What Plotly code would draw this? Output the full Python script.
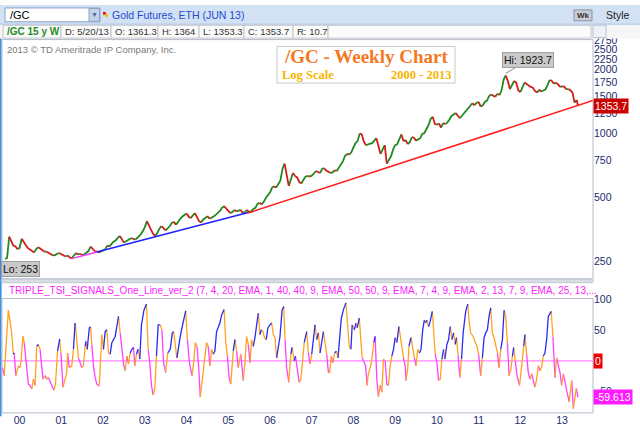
import math

import plotly.graph_objects as go

W, H = 640, 428
SANS = "Liberation Sans, Arial, sans-serif"
SERIF = "Liberation Serif, Georgia, serif"
NAVY = "#1c2b6e"

# weekly gold futures closes (decimal years)
price_dates = [
    1999.65, 1999.70, 1999.75, 1999.80, 1999.85, 1999.90, 1999.95,
    2000.00, 2000.05, 2000.10, 2000.15, 2000.20, 2000.25, 2000.30, 2000.35, 2000.40, 2000.45,
    2000.50, 2000.55, 2000.60, 2000.65, 2000.70, 2000.75, 2000.80, 2000.85, 2000.90, 2000.95,
    2001.00, 2001.05, 2001.10, 2001.15, 2001.20, 2001.25, 2001.30, 2001.35, 2001.40, 2001.45,
    2001.50, 2001.55, 2001.60, 2001.65, 2001.70, 2001.75, 2001.80, 2001.85, 2001.90, 2001.95,
    2002.00, 2002.05, 2002.10, 2002.15, 2002.20, 2002.25, 2002.30, 2002.35, 2002.40, 2002.45,
    2002.50, 2002.55, 2002.60, 2002.65, 2002.70, 2002.75, 2002.80, 2002.85, 2002.90, 2002.95,
    2003.00, 2003.05, 2003.10, 2003.15, 2003.20, 2003.25, 2003.30, 2003.35, 2003.40, 2003.45,
    2003.50, 2003.55, 2003.60, 2003.65, 2003.70, 2003.75, 2003.80, 2003.85, 2003.90, 2003.95,
    2004.00, 2004.05, 2004.10, 2004.15, 2004.20, 2004.25, 2004.30, 2004.35, 2004.40, 2004.45,
    2004.50, 2004.55, 2004.60, 2004.65, 2004.70, 2004.75, 2004.80, 2004.85, 2004.90, 2004.95,
    2005.00, 2005.05, 2005.10, 2005.15, 2005.20, 2005.25, 2005.30, 2005.35, 2005.40, 2005.45,
    2005.50, 2005.55, 2005.60, 2005.65, 2005.70, 2005.75, 2005.80, 2005.85, 2005.90, 2005.95,
    2006.00, 2006.05, 2006.10, 2006.15, 2006.20, 2006.25, 2006.30, 2006.35, 2006.40, 2006.45,
    2006.50, 2006.55, 2006.60, 2006.65, 2006.70, 2006.75, 2006.80, 2006.85, 2006.90, 2006.95,
    2007.00, 2007.05, 2007.10, 2007.15, 2007.20, 2007.25, 2007.30, 2007.35, 2007.40, 2007.45,
    2007.50, 2007.55, 2007.60, 2007.65, 2007.70, 2007.75, 2007.80, 2007.85, 2007.90, 2007.95,
    2008.00, 2008.05, 2008.10, 2008.15, 2008.20, 2008.25, 2008.30, 2008.35, 2008.40, 2008.45,
    2008.50, 2008.55, 2008.60, 2008.65, 2008.70, 2008.75, 2008.80, 2008.85, 2008.90, 2008.95,
    2009.00, 2009.05, 2009.10, 2009.15, 2009.20, 2009.25, 2009.30, 2009.35, 2009.40, 2009.45,
    2009.50, 2009.55, 2009.60, 2009.65, 2009.70, 2009.75, 2009.80, 2009.85, 2009.90, 2009.95,
    2010.00, 2010.05, 2010.10, 2010.15, 2010.20, 2010.25, 2010.30, 2010.35, 2010.40, 2010.45,
    2010.50, 2010.55, 2010.60, 2010.65, 2010.70, 2010.75, 2010.80, 2010.85, 2010.90, 2010.95,
    2011.00, 2011.05, 2011.10, 2011.15, 2011.20, 2011.25, 2011.30, 2011.35, 2011.40, 2011.45,
    2011.50, 2011.55, 2011.60, 2011.65, 2011.70, 2011.75, 2011.80, 2011.85, 2011.90, 2011.95,
    2012.00, 2012.05, 2012.10, 2012.15, 2012.20, 2012.25, 2012.30, 2012.35, 2012.40, 2012.45,
    2012.50, 2012.55, 2012.60, 2012.65, 2012.70, 2012.75, 2012.80, 2012.85, 2012.90, 2012.95,
    2013.00, 2013.05, 2013.10, 2013.15, 2013.20, 2013.25, 2013.30, 2013.35, 2013.38,
]
price_close = [
    255, 258, 325, 308, 295, 292, 284,
    288, 318, 305, 296, 287, 281, 278, 274, 285, 290,
    286, 280, 276, 276, 272, 270, 265, 266, 270, 272,
    268, 265, 262, 265, 259, 257, 263, 272, 268, 270,
    266, 268, 273, 278, 292, 283, 278, 276, 274, 278,
    280, 283, 295, 292, 300, 308, 312, 322, 328, 318,
    305, 310, 315, 318, 320, 315, 318, 325, 332, 345,
    360, 385, 370, 350, 335, 328, 338, 355, 365, 355,
    348, 356, 365, 378, 382, 370, 385, 395, 405, 413,
    418, 405, 398, 408, 420, 400, 385, 380, 392, 398,
    407, 395, 402, 405, 412, 420, 430, 445, 453, 440,
    428, 420, 425, 435, 428, 430, 435, 420, 425, 435,
    425, 428, 440, 445, 465, 470, 462, 475, 495, 510,
    525, 555, 562, 555, 580, 600, 680, 720, 640, 565,
    615, 650, 630, 620, 590, 580, 600, 625, 630, 625,
    632, 645, 665, 660, 650, 680, 685, 668, 660, 650,
    655, 670, 665, 690, 715, 740, 785, 800, 795, 815,
    860, 900, 920, 1000, 990, 915, 880, 890, 895, 900,
    930, 950, 880, 800, 840, 880, 720, 750, 780, 840,
    880, 890, 950, 990, 920, 930, 890, 910, 960, 955,
    925, 940, 950, 995, 1005, 1050, 1095, 1170, 1200, 1110,
    1100, 1115, 1065, 1120, 1108, 1125, 1165, 1210, 1230, 1250,
    1210, 1180, 1215, 1240, 1280, 1320, 1350, 1390, 1360, 1395,
    1410, 1340, 1360, 1410, 1430, 1500, 1530, 1510, 1490, 1540,
    1520, 1600, 1800, 1880, 1770, 1620, 1700, 1770, 1740, 1600,
    1570, 1660, 1740, 1710, 1690, 1660, 1645, 1590, 1560, 1610,
    1580, 1600, 1615, 1690, 1790, 1775, 1720, 1740, 1710, 1660,
    1670, 1665, 1620, 1620, 1600, 1560, 1400, 1440, 1353.7,
]

hi_date, hi_price = 2011.65, 1923.7
lo_price = 253
last_close = 1353.7

# hand-drawn support lines
pink_dates, pink_prices = [2001.25, 2001.85], [256, 275]
blue_dates, blue_prices = [2001.85, 2005.48], [275, 423]
red_dates, red_prices = [2005.48, 2013.74], [421, 1431]

price_ticks = [250, 500, 750, 1000, 1250, 1500, 1750, 2000, 2250, 2500, 2750]
tsi_ticks = [100, 50, -50]
year_ticks = list(range(2000, 2014))
year_labels = ["00", "01", "02", "03", "04", "05", "06", "07", "08", "09", "10", "11", "12", "13"]

# TRIPLE_TSI_SIGNALS oscillator
tsi_dates = [
    1999.59, 1999.63, 1999.73, 1999.81, 1999.85, 1999.87, 1999.91, 1999.97, 2000.01, 2000.03,
    2000.08, 2000.11, 2000.16, 2000.21, 2000.25, 2000.29, 2000.33, 2000.37, 2000.41, 2000.45,
    2000.49, 2000.56, 2000.61, 2000.65, 2000.69, 2000.77, 2000.82, 2000.86, 2000.91, 2000.96,
    2000.99, 2001.04, 2001.08, 2001.13, 2001.15, 2001.19, 2001.25, 2001.29, 2001.33, 2001.37,
    2001.41, 2001.49, 2001.53, 2001.57, 2001.59, 2001.62, 2001.67, 2001.70, 2001.73, 2001.77,
    2001.81, 2001.85, 2001.91, 2001.93, 2001.97, 2002.01, 2002.05, 2002.09, 2002.13, 2002.17,
    2002.21, 2002.29, 2002.33, 2002.37, 2002.41, 2002.49, 2002.53, 2002.57, 2002.61, 2002.65,
    2002.69, 2002.73, 2002.76, 2002.80, 2002.84, 2002.88, 2002.92, 2002.98, 2003.04, 2003.08,
    2003.12, 2003.16, 2003.20, 2003.24, 2003.28, 2003.32, 2003.37, 2003.41, 2003.45, 2003.50,
    2003.55, 2003.61, 2003.66, 2003.69, 2003.73, 2003.77, 2003.81, 2003.85, 2003.89, 2003.93,
    2003.98, 2004.02, 2004.07, 2004.13, 2004.17, 2004.21, 2004.25, 2004.29, 2004.33, 2004.40,
    2004.48, 2004.52, 2004.56, 2004.60, 2004.64, 2004.68, 2004.72, 2004.76, 2004.80, 2004.84,
    2004.90, 2004.94, 2004.98, 2005.02, 2005.06, 2005.12, 2005.16, 2005.20, 2005.24, 2005.30,
    2005.36, 2005.40, 2005.44, 2005.48, 2005.52, 2005.56, 2005.60, 2005.64, 2005.68, 2005.72,
    2005.76, 2005.79, 2005.83, 2005.87, 2005.91, 2005.95, 2006.00, 2006.04, 2006.08, 2006.12,
    2006.16, 2006.20, 2006.24, 2006.29, 2006.33, 2006.36, 2006.40, 2006.45, 2006.50, 2006.53,
    2006.58, 2006.61, 2006.65, 2006.70, 2006.74, 2006.77, 2006.82, 2006.88, 2006.92, 2006.96,
    2007.00, 2007.04, 2007.08, 2007.12, 2007.16, 2007.20, 2007.24, 2007.28, 2007.32, 2007.36,
    2007.40, 2007.43, 2007.47, 2007.51, 2007.55, 2007.59, 2007.63, 2007.67, 2007.71, 2007.77,
    2007.82, 2007.86, 2007.90, 2007.94, 2007.97, 2008.02, 2008.06, 2008.09, 2008.14, 2008.17,
    2008.21, 2008.25, 2008.29, 2008.33, 2008.35, 2008.43, 2008.49, 2008.52, 2008.56, 2008.60,
    2008.64, 2008.68, 2008.72, 2008.76, 2008.80, 2008.84, 2008.88, 2008.92, 2008.96, 2009.00,
    2009.04, 2009.09, 2009.16, 2009.20, 2009.24, 2009.26, 2009.30, 2009.33, 2009.38, 2009.42,
    2009.46, 2009.50, 2009.54, 2009.58, 2009.62, 2009.66, 2009.70, 2009.73, 2009.76, 2009.80,
    2009.84, 2009.89, 2009.92, 2009.96, 2010.00, 2010.04, 2010.08, 2010.12, 2010.16, 2010.19,
    2010.22, 2010.24, 2010.28, 2010.32, 2010.36, 2010.40, 2010.44, 2010.47, 2010.51, 2010.55,
    2010.59, 2010.63, 2010.69, 2010.74, 2010.77, 2010.81, 2010.87, 2010.92, 2010.96, 2011.00,
    2011.05, 2011.09, 2011.13, 2011.17, 2011.21, 2011.25, 2011.29, 2011.33, 2011.38, 2011.42,
    2011.45, 2011.49, 2011.53, 2011.57, 2011.61, 2011.65, 2011.69, 2011.73, 2011.77, 2011.81,
    2011.84, 2011.88, 2011.92, 2011.98, 2012.00, 2012.04, 2012.08, 2012.11, 2012.15, 2012.19,
    2012.23, 2012.27, 2012.31, 2012.35, 2012.39, 2012.43, 2012.47, 2012.51, 2012.55, 2012.59,
    2012.63, 2012.67, 2012.74, 2012.78, 2012.81, 2012.83, 2012.87, 2012.91, 2012.95, 2012.99,
    2013.03, 2013.07, 2013.11, 2013.17, 2013.21, 2013.23, 2013.27, 2013.31, 2013.34, 2013.38,
]
tsi_values = [
    -11, -24, 83, 46, 11, 13, -24, -8, -11, -3,
    41, 30, -8, -38, -40, -46, -30, -40, 24, 27,
    19, -30, -24, -30, -27, -40, -48, -38, 16, 36,
    13, -43, -32, -19, 13, -11, -8, 19, 62, 30,
    5, -11, -8, 24, 32, 19, 54, 56, 27, -8,
    -27, -38, -41, -3, 43, 19, 48, 51, 13, 11,
    30, 40, 56, 73, 46, -5, -16, 8, -5, 13,
    19, 22, -8, 11, 19, 3, 59, 83, 93, 19,
    -3, -40, -56, -46, 8, 59, 59, 51, -3, -19,
    13, 19, 46, 48, 30, 5, 27, 40, 54, 67,
    82, 35, -3, -24, -3, 30, 24, -8, -59, -16,
    30, 24, -8, 19, 11, 16, 48, 54, 62, 75,
    84, 30, 8, -27, -38, 16, 35, 16, -11, 11,
    -32, -3, 40, 27, -3, 35, 24, 38, 59, 78,
    43, 51, 48, 38, 35, 54, 59, 62, 43, 38,
    5, 24, 40, 83, 89, 35, -11, -35, 11, 22,
    0, 8, -11, -35, -30, -8, 30, 48, 13, -5,
    11, 40, 59, 35, 46, 13, 35, 48, 30, 11,
    -19, -19, 8, -3, 13, 16, 5, 35, 70, 86,
    95, 65, 24, 19, 59, 51, 62, 54, 70, 46,
    5, -3, -8, -40, -24, -3, 30, 40, -30, -59,
    -40, -51, 3, 0, -38, -40, -8, 8, 19, 38,
    30, 56, 19, 5, -8, -32, -13, 24, 38, 19,
    5, -8, 19, 13, 19, 51, 67, 62, 67, 56,
    65, 81, 46, 11, -3, -32, -30, 3, 19, 3,
    24, 27, 35, 56, 35, 46, 27, 38, 8, -27,
    3, 46, 81, 93, 65, 46, 40, 30, 24, 11,
    -24, 5, 38, 46, 51, 73, 87, 46, 35, 24,
    13, -11, 19, 35, 83, 73, 30, -24, -16, 8,
    22, 0, -24, -40, -24, -3, 24, 43, 11, -19,
    -30, -21, -35, -43, -30, -8, -16, -11, 8, 13,
    35, 73, 81, 40, -3, -27, 5, -5, -19, -40,
    -21, -32, -48, -67, -40, -32, -78, -54, -45, -59.613,
]
tsi_last = -59.613

BLUE, ORANGE, PINK = "#2a2af5", "#ffa31a", "#ff40ff"
UP, DOWN = "#1f8a1f", "#d41c1c"


def px(x):
    return x / W


def py(y):
    return 1 - y / H


def tsi_color(a, b):
    if b >= a:
        return BLUE if a >= 0 else ORANGE
    return ORANGE if b >= 0 else PINK


def colored_runs(xs, ys, pick):
    # group consecutive segments of the same colour into one polyline
    runs = []
    for i in range(len(ys) - 1):
        col = pick(ys[i], ys[i + 1])
        if runs and runs[-1][0] == col:
            runs[-1][1].append(i + 1)
        else:
            runs.append((col, [i, i + 1]))
    out = {}
    for col, idx in runs:
        xx, yy = out.setdefault(col, ([], []))
        xx += [xs[k] for k in idx] + [None]
        yy += [ys[k] for k in idx] + [None]
    return out


fig = go.Figure()

# price, green while rising, red while falling
for col, (xx, yy) in colored_runs(
    price_dates, price_close, lambda a, b: UP if b >= a else DOWN
).items():
    fig.add_trace(
        go.Scatter(x=xx, y=yy, mode="lines", line={"color": col, "width": 1.8},
                   xaxis="x", yaxis="y", hoverinfo="skip")
    )

for d, p, c in [
    (pink_dates, pink_prices, "#ff33ff"),
    (blue_dates, blue_prices, "#2020ff"),
    (red_dates, red_prices, "#ff1a1a"),
]:
    fig.add_trace(
        go.Scatter(x=d, y=p, mode="lines", line={"color": c, "width": 1.5},
                   xaxis="x", yaxis="y", hoverinfo="skip")
    )

tsi_runs = colored_runs(tsi_dates, tsi_values, tsi_color)
for col in (PINK, ORANGE, BLUE):
    xx, yy = tsi_runs[col]
    fig.add_trace(
        go.Scatter(x=xx, y=yy, mode="lines", line={"color": col, "width": 1.3},
                   xaxis="x2", yaxis="y2", hoverinfo="skip")
    )

x_range = [1999.578, 2013.741]
x_dom = [px(2), px(593)]

shapes = []


def rect(x0, y0, x1, y1, fill, line=None, width=1):
    shapes.append(dict(
        type="rect", xref="paper", yref="paper", layer="above",
        x0=px(x0), x1=px(x1), y0=py(y1), y1=py(y0), fillcolor=fill,
        line={"color": line or fill, "width": width if line else 0},
    ))


def hline(x0, x1, y, color, width=1):
    shapes.append(dict(type="line", xref="paper", yref="paper", layer="above",
                       x0=px(x0), x1=px(x1), y0=py(y), y1=py(y),
                       line={"color": color, "width": width}))


def vline(x, y0, y1, color, width=1):
    shapes.append(dict(type="line", xref="paper", yref="paper", layer="above",
                       x0=px(x), x1=px(x), y0=py(y0), y1=py(y1),
                       line={"color": color, "width": width}))


# toolbar rows
rect(0, 0, 640, 19.5, "#d3e1f5")
hline(0, 640, 19.5, "#9db9e2")
rect(5, 3, 100, 17, "#ffffff", "#8ea3c4")
rect(89, 3.5, 99.5, 16.5, "#c3d3ea", "#8ea3c4")
rect(103, 7, 106, 10, "#e02020")
rect(105, 9, 108, 12, "#f0c000")
rect(574, 5, 592, 16, "#c9ccd4", "#8d93a0")
rect(0, 20, 640, 34, "#f6f6f6")
for x0, x1 in [(3, 61), (61, 111), (111, 158), (158, 199), (199, 244), (244, 293),
               (293, 328), (328, 591)]:
    rect(x0, 20.5, x1, 33.5, "#fbfbfb", "#c4c4c4")
rect(593, 20.5, 606, 33, "#eef2f8", "#b8c2d2")
vline(0.8, 34, 416, "#3b8fe8", 1.6)

# chart frames
rect(2, 35, 593, 277, "rgba(0,0,0,0)", "#b3bccb")
rect(2, 277.5, 593, 281, "#d9dde4", "#c4c9d2")
rect(2, 297, 593, 412.7, "rgba(0,0,0,0)", "#b3bccb")
shapes.append(dict(type="line", xref="paper", yref="y2", layer="below",
                   x0=px(2), x1=px(593), y0=0, y1=0,
                   line={"color": "#ff66ff", "width": 1}))

# title box
rect(277, 42, 455, 79, "#ffffff", "#c8c8c8")

annotations = []


def text(x, y, s, size=10, color="#333333", anchor="left", family=SANS, **kw):
    annotations.append(dict(x=px(x), y=py(y), xref="paper", yref="paper", text=s,
                            showarrow=False, xanchor=anchor, yanchor="middle",
                            font={"size": size, "color": color, "family": family}, **kw))


text(8, 10.5, "/GC", 11, "#000000")
text(94.5, 10, "▼", 7, "#4d6b99", anchor="center")
text(110, 10.5, "Gold Futures, ETH (JUN 13)", 10.5, "#1d4ccc")
text(583, 10.5, "<b>Wk</b>", 8, "#333333", anchor="center")
text(604, 10.5, "Style", 10.5, "#222222")
text(5, 27, "<b>/GC 15 y W</b>", 10, "#1f8c1f")
text(63, 27, "D: 5/20/13", 9.5)
text(113, 27, "O: 1361.3", 9.5)
text(160, 27, "H: 1364", 9.5)
text(201, 27, "L: 1353.3", 9.5)
text(246, 27, "C: 1353.7", 9.5)
text(295, 27, "R: 10.7", 9.5)
text(5, 45, "2013 © TD Ameritrade IP Company, Inc.", 9.5, "#7a7a7a")
text(366, 52.5, "<b>/GC - Weekly Chart</b>", 19, "#f5781e", anchor="center", family=SERIF)
text(280, 71, "<b>Log Scale</b>", 12.5, "#f7b500", family=SERIF)
text(453, 71, "<b>2000 - 2013</b>", 12.5, "#f7b500", anchor="right", family=SERIF)
text(7, 289, "TRIPLE_TSI_SIGNALS_One_Line_ver_2 (7, 4, 20, EMA, 1, 40, 40, 9, EMA, 50, 50, 9, "
     "EMA, 7, 4, 9, EMA, 2, 13, 7, 9, EMA, 25, 13,...", 10, "#ff1aff")
text(1, 267.5, "Lo: " + str(lo_price), 10.5, "#111111",
     bgcolor="#c9c9c9", bordercolor="#a0a0a0", borderpad=1)

annotations.append(dict(
    x=hi_date, y=math.log10(hi_price), xref="x", yref="y", text="Hi: " + str(hi_price),
    showarrow=True, arrowhead=0, arrowwidth=1, arrowcolor="#8a8a8a", ax=22, ay=-13,
    bgcolor="#c9c9c9", bordercolor="#a0a0a0", borderpad=1,
    font={"size": 10.5, "color": "#111111", "family": SANS},
))
annotations.append(dict(
    x=px(593), y=math.log10(last_close), xref="paper", yref="y", text=str(last_close),
    showarrow=False, xanchor="left", yanchor="middle", bgcolor="#cc0000", borderpad=1,
    font={"size": 10.5, "color": "#ffffff", "family": SANS},
))
annotations.append(dict(
    x=px(593), y=0, xref="paper", yref="y2", text="0", showarrow=False,
    xanchor="left", yanchor="middle", bgcolor="#ee0000", borderpad=1,
    font={"size": 10.5, "color": "#ffffff", "family": SANS},
))
annotations.append(dict(
    x=px(593), y=tsi_last, xref="paper", yref="y2", text=f"{tsi_last:.3f}",
    showarrow=False, xanchor="left", yanchor="middle", bgcolor="#ff1aff", borderpad=1,
    font={"size": 10.5, "color": "#ffffff", "family": SANS},
))

axis_font = {"size": 10.5, "color": NAVY, "family": SANS}
fig.update_layout(
    width=W,
    height=H,
    margin={"l": 0, "r": 0, "t": 0, "b": 0},
    paper_bgcolor="#ffffff",
    plot_bgcolor="#ffffff",
    showlegend=False,
    shapes=shapes,
    annotations=annotations,
    xaxis={"domain": x_dom, "range": x_range, "anchor": "y", "showticklabels": False,
           "showgrid": False, "zeroline": False},
    xaxis2={"domain": x_dom, "range": x_range, "anchor": "y2", "matches": "x",
            "tickmode": "array", "tickvals": year_ticks, "ticktext": year_labels,
            "tickfont": axis_font, "showgrid": False, "zeroline": False, "ticks": ""},
    yaxis={"domain": [py(277), py(35)], "type": "log", "range": [2.3131, 3.4439],
           "side": "right", "anchor": "x", "tickmode": "array", "tickvals": price_ticks,
           "tickfont": axis_font, "showgrid": False, "zeroline": False, "ticks": ""},
    yaxis2={"domain": [py(412.7), py(297)], "range": [-85, 102.1], "side": "right",
            "anchor": "x2", "tickmode": "array", "tickvals": tsi_ticks,
            "tickfont": axis_font, "showgrid": False, "zeroline": False, "ticks": ""},
)

# the page body has a default 8px margin; drop it so the chart fills the window
fig.write_html(
    "out.html",
    config={"displayModeBar": False},
    post_script="document.body.style.margin = '0';",
)
